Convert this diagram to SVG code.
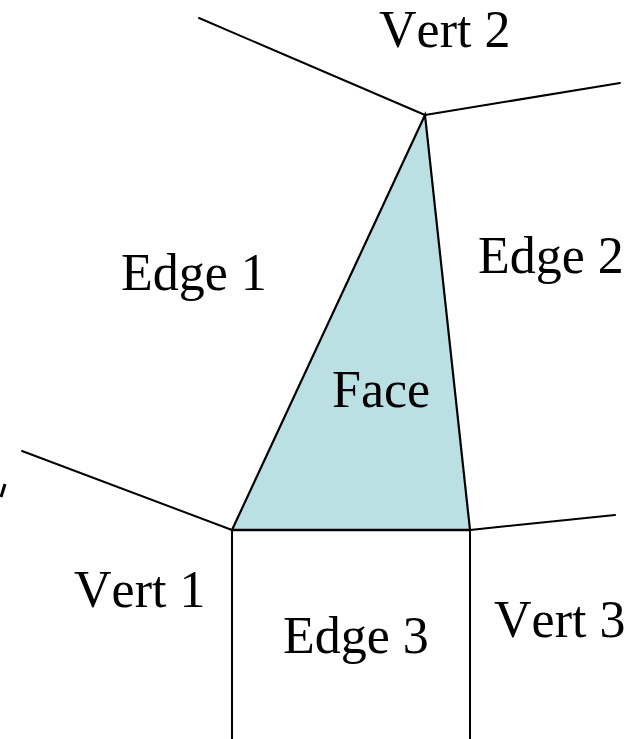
<svg xmlns="http://www.w3.org/2000/svg" width="644" height="739" viewBox="0 0 644 739">
<style>
.ln{stroke:#000;stroke-width:2;fill:none;stroke-linecap:round}
.t{font-family:"Liberation Serif","Times New Roman",serif;font-size:52px;fill:#000;font-kerning:none}
</style>
<rect width="644" height="739" fill="#fff"/>
<g id="face">
<polygon points="425,115 232,530 470,530" fill="#BBE0E3" stroke="#000" stroke-width="2.2" stroke-linejoin="miter"/>
<text class="t" x="332" y="407">Face</text>
</g>
<g id="connectors">
<line class="ln" x1="199" y1="18" x2="425" y2="115"/>
<line class="ln" x1="425" y1="115" x2="620" y2="83"/>
<line class="ln" x1="22" y1="451" x2="232" y2="530"/>
<line class="ln" x1="470" y1="530" x2="615" y2="515"/>
<line class="ln" x1="232" y1="530" x2="232" y2="739" stroke-width="2.4"/>
<line class="ln" x1="470" y1="530" x2="470" y2="739" stroke-width="2.4"/>
<line x1="232" y1="530" x2="470" y2="530" stroke="#000" stroke-width="2.6"/>
<line x1="5" y1="484" x2="1" y2="497" stroke="#000" stroke-width="3"/>
</g>
<g id="vert2"><text class="t" x="379" y="47">Vert 2</text></g>
<g id="edge1"><text class="t" x="121" y="290">Edge 1</text></g>
<g id="edge2"><text class="t" x="478" y="273">Edge 2</text></g>
<g id="vert1"><text class="t" x="74" y="607">Vert 1</text></g>
<g id="edge3"><text class="t" x="283" y="653">Edge 3</text></g>
<g id="vert3"><text class="t" x="494" y="637">Vert 3</text></g>
</svg>
